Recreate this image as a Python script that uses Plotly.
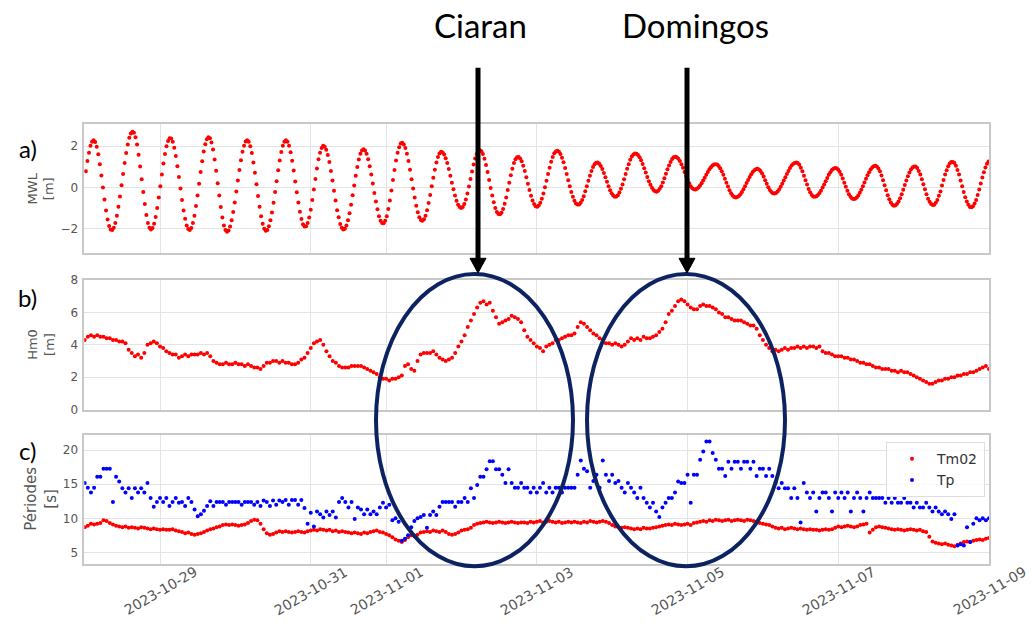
import pandas as pd
import plotly.graph_objects as go

# ---------------- data ----------------
# MWL, one reading about every 30 minutes
mwl_values = [
    0.79, 1.28, 1.69, 2.02, 2.22, 2.29, 2.21, 1.98, 1.61, 1.13, 0.58, -0.01,
    -0.59, -1.12, -1.56, -1.88, -2.05, -2.07, -1.96, -1.73, -1.38, -0.94, -0.45, 0.10,
    0.65, 1.18, 1.67, 2.09, 2.41, 2.62, 2.71, 2.66, 2.44, 2.08, 1.59, 1.02,
    0.39, -0.23, -0.81, -1.34, -1.73, -1.97, -2.05, -1.98, -1.77, -1.44, -1.00, -0.49,
    0.06, 0.62, 1.16, 1.62, 2.00, 2.26, 2.39, 2.38, 2.22, 1.93, 1.53, 1.03,
    0.50, -0.06, -0.62, -1.12, -1.53, -1.86, -2.03, -2.08, -1.98, -1.74, -1.38, -0.91,
    -0.39, 0.18, 0.75, 1.27, 1.74, 2.10, 2.34, 2.44, 2.39, 2.18, 1.84, 1.36,
    0.81, 0.20, -0.40, -0.96, -1.47, -1.85, -2.08, -2.16, -2.10, -1.91, -1.60, -1.20,
    -0.74, -0.20, 0.33, 0.85, 1.32, 1.73, 2.03, 2.23, 2.29, 2.22, 2.00, 1.67,
    1.21, 0.71, 0.15, -0.42, -0.94, -1.41, -1.77, -2.01, -2.11, -2.07, -1.89, -1.60,
    -1.22, -0.75, -0.23, 0.30, 0.83, 1.31, 1.72, 2.03, 2.22, 2.29, 2.22, 2.03,
    1.71, 1.30, 0.82, 0.29, -0.24, -0.74, -1.19, -1.54, -1.79, -1.91, -1.89, -1.74,
    -1.47, -1.09, -0.62, -0.10, 0.41, 0.92, 1.37, 1.69, 1.92, 2.02, 1.98, 1.83,
    1.57, 1.23, 0.80, 0.33, -0.16, -0.64, -1.11, -1.46, -1.78, -1.97, -2.05, -2.01,
    -1.86, -1.60, -1.26, -0.84, -0.38, 0.09, 0.56, 0.99, 1.35, 1.63, 1.80, 1.86,
    1.80, 1.64, 1.37, 1.03, 0.63, 0.19, -0.27, -0.69, -1.07, -1.40, -1.62, -1.74,
    -1.75, -1.63, -1.40, -1.05, -0.64, -0.15, 0.36, 0.85, 1.31, 1.68, 1.95, 2.13,
    2.17, 2.09, 1.91, 1.64, 1.28, 0.86, 0.40, -0.05, -0.49, -0.89, -1.21, -1.46,
    -1.59, -1.63, -1.55, -1.38, -1.11, -0.76, -0.37, 0.05, 0.47, 0.86, 1.21, 1.48,
    1.65, 1.73, 1.70, 1.60, 1.42, 1.18, 0.89, 0.57, 0.23, -0.09, -0.40, -0.65,
    -0.84, -0.96, -1.00, -0.95, -0.81, -0.59, -0.30, 0.04, 0.41, 0.77, 1.11, 1.40,
    1.62, 1.76, 1.81, 1.76, 1.62, 1.39, 1.09, 0.75, 0.36, -0.03, -0.40, -0.73,
    -1.01, -1.20, -1.30, -1.31, -1.23, -1.05, -0.80, -0.49, -0.13, 0.23, 0.59, 0.91,
    1.18, 1.37, 1.47, 1.48, 1.41, 1.27, 1.05, 0.80, 0.49, 0.18, -0.13, -0.41,
    -0.64, -0.81, -0.92, -0.94, -0.88, -0.75, -0.56, -0.30, 0.00, 0.32, 0.65, 0.96,
    1.25, 1.48, 1.66, 1.75, 1.78, 1.73, 1.62, 1.44, 1.22, 0.94, 0.65, 0.35,
    0.05, -0.22, -0.46, -0.65, -0.78, -0.83, -0.83, -0.75, -0.62, -0.43, -0.19, 0.05,
    0.32, 0.57, 0.80, 0.99, 1.13, 1.20, 1.21, 1.15, 1.04, 0.89, 0.70, 0.49,
    0.27, 0.05, -0.14, -0.29, -0.40, -0.46, -0.45, -0.38, -0.25, -0.07, 0.14, 0.39,
    0.65, 0.90, 1.13, 1.34, 1.50, 1.60, 1.65, 1.63, 1.57, 1.46, 1.32, 1.14,
    0.93, 0.72, 0.51, 0.30, 0.13, -0.02, -0.13, -0.19, -0.21, -0.17, -0.07, 0.06,
    0.24, 0.44, 0.66, 0.88, 1.07, 1.24, 1.38, 1.46, 1.49, 1.47, 1.39, 1.28,
    1.12, 0.95, 0.75, 0.56, 0.37, 0.20, 0.06, -0.04, -0.09, -0.10, -0.07, -0.01,
    0.09, 0.20, 0.33, 0.47, 0.61, 0.75, 0.88, 0.98, 1.06, 1.11, 1.13, 1.11,
    1.04, 0.93, 0.78, 0.61, 0.42, 0.22, 0.04, -0.14, -0.29, -0.40, -0.47, -0.49,
    -0.47, -0.42, -0.34, -0.23, -0.09, 0.05, 0.21, 0.36, 0.50, 0.64, 0.75, 0.83,
    0.88, 0.90, 0.87, 0.80, 0.68, 0.53, 0.35, 0.18, 0.01, -0.13, -0.23, -0.29,
    -0.30, -0.27, -0.20, -0.10, 0.03, 0.17, 0.33, 0.49, 0.65, 0.80, 0.94, 1.06,
    1.14, 1.19, 1.21, 1.18, 1.10, 0.96, 0.78, 0.57, 0.35, 0.14, -0.08, -0.24,
    -0.37, -0.44, -0.46, -0.43, -0.37, -0.28, -0.16, -0.01, 0.14, 0.30, 0.46, 0.61,
    0.73, 0.84, 0.91, 0.94, 0.93, 0.87, 0.76, 0.61, 0.43, 0.23, 0.03, -0.17,
    -0.34, -0.46, -0.54, -0.57, -0.55, -0.49, -0.39, -0.26, -0.11, 0.06, 0.24, 0.42,
    0.59, 0.74, 0.87, 0.97, 1.03, 1.05, 1.02, 0.92, 0.78, 0.58, 0.35, 0.10,
    -0.14, -0.38, -0.58, -0.74, -0.84, -0.89, -0.87, -0.80, -0.69, -0.53, -0.33, -0.12,
    0.11, 0.33, 0.54, 0.72, 0.87, 0.97, 1.02, 1.01, 0.94, 0.80, 0.63, 0.40,
    0.15, -0.09, -0.33, -0.55, -0.70, -0.81, -0.86, -0.84, -0.75, -0.61, -0.41, -0.20,
    0.09, 0.36, 0.62, 0.83, 1.03, 1.16, 1.24, 1.24, 1.18, 1.05, 0.85, 0.62,
    0.34, 0.05, -0.23, -0.48, -0.69, -0.85, -0.95, -0.97, -0.92, -0.79, -0.61, -0.37,
    -0.10, 0.19, 0.48, 0.74, 0.97, 1.15, 1.26,
]
mwl_start, mwl_end = "2023-10-28 00:23", "2023-11-08 23:51"

hm0_values = [
    4.3, 4.5, 4.6, 4.5, 4.6, 4.5, 4.5, 4.4, 4.4, 4.3, 4.3, 4.2,
    4.2, 4.1, 3.7, 3.5, 3.3, 3.4, 3.2, 3.5, 4.0, 4.1, 4.2, 4.1,
    3.9, 3.8, 3.6, 3.5, 3.4, 3.4, 3.2, 3.3, 3.4, 3.3, 3.4, 3.4,
    3.4, 3.5, 3.4, 3.5, 3.3, 3.0, 2.9, 2.8, 2.8, 2.9, 2.8, 2.8,
    2.9, 2.8, 2.8, 2.7, 2.8, 2.7, 2.6, 2.6, 2.5, 2.7, 2.9, 2.9,
    3.0, 3.0, 2.9, 3.0, 2.9, 2.9, 2.8, 2.8, 2.9, 3.1, 3.2, 3.5,
    3.8, 4.1, 4.2, 4.3, 4.0, 3.6, 3.3, 3.0, 2.9, 2.7, 2.6, 2.6,
    2.6, 2.7, 2.7, 2.7, 2.7, 2.6, 2.5, 2.4, 2.3, 2.2, 2.0, 1.9,
    1.9, 1.8, 1.9, 1.9, 2.0, 2.1, 2.7, 2.8, 2.5, 2.4, 3.0, 3.4,
    3.5, 3.5, 3.5, 3.6, 3.4, 3.2, 3.1, 3.0, 3.1, 3.2, 3.5, 3.9,
    4.2, 4.6, 5.1, 5.5, 5.9, 6.3, 6.6, 6.7, 6.5, 6.6, 6.1, 5.7,
    5.3, 5.4, 5.5, 5.6, 5.8, 5.7, 5.6, 5.4, 4.9, 4.5, 4.3, 4.1,
    3.9, 3.8, 3.6, 3.9, 4.0, 4.1, 4.3, 4.3, 4.4, 4.5, 4.6, 4.6,
    4.7, 5.1, 5.4, 5.3, 5.1, 4.9, 4.7, 4.6, 4.4, 4.3, 4.1, 4.1,
    4.0, 4.1, 4.0, 3.9, 4.0, 4.2, 4.4, 4.3, 4.4, 4.3, 4.5, 4.4,
    4.4, 4.5, 4.6, 4.8, 5.0, 5.4, 5.9, 6.1, 6.4, 6.7, 6.8, 6.7,
    6.5, 6.3, 6.2, 6.2, 6.4, 6.5, 6.4, 6.4, 6.3, 6.2, 6.0, 5.9,
    5.7, 5.7, 5.6, 5.5, 5.5, 5.5, 5.4, 5.3, 5.2, 5.2, 5.0, 4.6,
    4.3, 4.0, 3.8, 3.6, 3.7, 3.6, 3.7, 3.8, 3.7, 3.8, 3.8, 3.9,
    3.8, 3.9, 3.8, 3.9, 3.9, 3.8, 3.9, 3.6, 3.5, 3.5, 3.4, 3.3,
    3.3, 3.3, 3.2, 3.2, 3.1, 3.1, 3.0, 2.9, 2.9, 2.8, 2.8, 2.7,
    2.6, 2.6, 2.5, 2.5, 2.5, 2.4, 2.4, 2.3, 2.4, 2.3, 2.3, 2.2,
    2.1, 2.0, 1.9, 1.8, 1.7, 1.6, 1.6, 1.7, 1.8, 1.8, 1.9, 1.9,
    2.0, 2.0, 2.1, 2.1, 2.2, 2.2, 2.3, 2.3, 2.4, 2.5, 2.6, 2.7, 2.5,
]

tm02_values = [
    8.7, 8.9, 9.2, 9.1, 9.2, 9.3, 9.7, 9.6, 9.3, 9.1, 8.9, 8.8,
    8.7, 8.8, 8.6, 8.7, 8.6, 8.5, 8.7, 8.6, 8.5, 8.4, 8.5, 8.4,
    8.3, 8.4, 8.3, 8.3, 8.4, 8.2, 8.1, 8.0, 7.8, 7.9, 7.7, 7.6,
    7.7, 7.8, 8.0, 8.2, 8.4, 8.5, 8.7, 8.8, 9.0, 9.1, 9.0, 9.1,
    9.0, 8.9, 9.0, 9.1, 9.3, 9.6, 9.8, 9.7, 9.2, 8.4, 7.8, 7.6,
    7.7, 7.9, 8.1, 8.0, 8.1, 8.0, 7.9, 8.0, 8.1, 8.0, 7.9, 8.1,
    8.2, 8.3, 8.2, 8.4, 8.3, 8.2, 8.3, 8.1, 8.2, 8.0, 8.1, 8.0,
    7.9, 7.8, 7.9, 7.8, 7.7, 7.9, 7.8, 8.0, 8.1, 8.2, 8.0, 7.9,
    7.7, 7.5, 7.2, 6.9, 6.7, 6.5, 6.8, 7.2, 7.5, 7.4, 7.6, 7.9,
    8.0, 8.1, 8.0, 8.2, 8.1, 8.0, 8.2, 8.0, 7.7, 7.6, 7.7, 7.9,
    8.2, 8.3, 8.4, 8.6, 9.0, 9.2, 9.3, 9.4, 9.5, 9.4, 9.3, 9.4,
    9.5, 9.4, 9.3, 9.4, 9.5, 9.4, 9.3, 9.4, 9.4, 9.3, 9.5, 9.4,
    9.5, 9.6, 9.4, 9.5, 9.6, 9.5, 9.4, 9.5, 9.3, 9.4, 9.5, 9.4,
    9.5, 9.4, 9.3, 9.5, 9.4, 9.6, 9.5, 9.4, 9.5, 9.6, 9.5, 9.3,
    9.0, 8.8, 8.7, 8.6, 8.7, 8.6, 8.5, 8.4, 8.5, 8.4, 8.6, 8.5,
    8.5, 8.6, 8.7, 8.8, 8.9, 9.0, 9.1, 9.0, 9.2, 9.1, 9.0, 9.1,
    9.2, 9.0, 9.3, 9.4, 9.5, 9.6, 9.5, 9.7, 9.6, 9.8, 9.7, 9.6,
    9.7, 9.8, 9.6, 9.7, 9.8, 9.7, 9.6, 9.8, 9.7, 9.6, 9.5, 9.3,
    9.2, 9.1, 9.0, 8.8, 8.6, 8.5, 8.6, 8.4, 8.5, 8.6, 8.5, 8.4,
    8.5, 8.4, 8.3, 8.4, 8.3, 8.3, 8.2, 8.3, 8.4, 8.3, 8.4, 8.6,
    8.8, 8.7, 8.8, 8.9, 8.8, 8.7, 8.8, 9.0, 9.1, 9.2, 7.9, 8.3,
    8.7, 8.8, 8.7, 8.6, 8.5, 8.4, 8.3, 8.4, 8.3, 8.2, 8.3, 8.4,
    8.3, 8.2, 8.3, 8.1, 8.0, 7.3, 6.6, 6.4, 6.3, 6.2, 6.3, 6.1,
    6.0, 5.9, 6.1, 6.3, 6.5, 6.6, 6.5, 6.7, 6.8, 6.9, 6.8, 7.0, 7.1,
]

tp_values = [
    15.2, 14.5, 13.8, 14.5, 16.1, 16.1, 17.3, 17.3, 17.3, 12.4, 16.1, 15.4,
    14.4, 13.8, 14.4, 13.0, 14.4, 13.8, 14.4, 13.8, 15.2, 13.0, 11.7, 12.4,
    13.0, 12.4, 13.0, 11.8, 12.4, 13.0, 12.3, 12.4, 11.8, 13.0, 12.4, 11.3,
    10.3, 10.6, 11.1, 11.8, 12.5, 11.8, 12.4, 12.4, 12.4, 12.0, 12.4, 12.4,
    12.4, 12.4, 12.0, 12.4, 12.4, 12.4, 12.0, 12.4, 11.8, 12.6, 12.4, 11.8,
    12.6, 12.0, 12.6, 12.4, 12.7, 12.0, 12.7, 12.7, 12.0, 12.7, 11.5, 9.2,
    10.8, 8.8, 11.0, 10.6, 10.1, 11.0, 10.5, 11.0, 10.1, 12.4, 13.0, 12.4,
    11.6, 12.4, 9.9, 11.6, 11.3, 10.6, 11.3, 10.6, 11.0, 10.6, 11.6, 12.3,
    11.6, 12.0, 9.7, 10.0, 9.5, 6.7, 7.0, 7.5, 8.7, 9.6, 10.0, 10.2,
    10.5, 8.6, 10.5, 11.0, 10.5, 11.7, 12.4, 12.4, 12.4, 12.4, 11.7, 12.4,
    12.4, 13.0, 12.4, 14.4, 13.0, 14.9, 16.1, 16.1, 17.2, 18.4, 18.4, 17.2,
    17.2, 16.4, 15.2, 17.2, 15.2, 14.5, 14.5, 15.2, 14.5, 14.5, 13.8, 14.5,
    13.8, 14.5, 15.2, 13.8, 14.5, 13.8, 14.5, 14.5, 13.8, 14.5, 14.5, 14.5,
    14.5, 16.4, 18.5, 17.3, 16.9, 14.5, 15.5, 16.4, 14.5, 18.5, 16.4, 15.5,
    16.4, 15.2, 15.5, 14.5, 13.8, 15.2, 14.5, 13.8, 13.0, 14.5, 13.0, 12.3,
    11.6, 12.3, 11.0, 10.2, 11.6, 12.3, 13.0, 13.0, 13.8, 15.4, 15.2, 15.2,
    16.4, 12.3, 16.4, 16.4, 18.6, 19.8, 21.3, 21.3, 19.6, 18.6, 17.3, 17.3,
    16.2, 18.3, 17.3, 18.3, 18.3, 17.3, 18.3, 18.3, 17.3, 18.3, 16.2, 17.3,
    17.3, 16.2, 17.3, 16.2, 15.2, 14.4, 15.2, 14.4, 14.4, 13.0, 14.4, 13.0,
    9.4, 15.2, 13.8, 13.0, 13.8, 11.0, 13.0, 13.8, 13.8, 13.0, 11.0, 13.8,
    13.0, 13.8, 13.0, 13.8, 11.0, 13.0, 13.8, 13.0, 11.0, 13.0, 13.8, 13.0,
    13.0, 13.0, 13.0, 12.3, 13.0, 12.3, 13.0, 12.3, 12.3, 13.0, 12.3, 12.3,
    11.6, 12.3, 11.6, 11.6, 12.3, 11.6, 11.0, 11.6, 11.0, 10.6, 11.0, 10.6,
    9.9, 10.6, 6.0, 6.2, 6.0, 8.7, 6.5, 9.2, 10.0, 9.7, 10.0, 9.7, 10.0,
]
hourly_start = "2023-10-28 00:00"

tick_dates = ["2023-10-29", "2023-10-31", "2023-11-01", "2023-11-03",
              "2023-11-05", "2023-11-07", "2023-11-09"]
x_range = ["2023-10-27 23:53", "2023-11-09 00:00"]

mwl_ticks = [-2, 0, 2]
hm0_ticks = [0, 2, 4, 6, 8]
per_ticks = [5, 10, 15, 20]

# ---------------- figure ----------------
W, H = 1033, 632
def px(x):
    return x / W
def py(y):
    return 1 - y / H

mwl_time = pd.date_range(mwl_start, mwl_end, periods=len(mwl_values))
hm0_time = pd.date_range(hourly_start, periods=len(hm0_values), freq="h")
tm02_time = pd.date_range(hourly_start, periods=len(tm02_values), freq="h")
tp_time = pd.date_range(hourly_start, periods=len(tp_values), freq="h")

RED = "#ff0000"
BLUE = "#0000ff"
fig = go.Figure()
fig.add_trace(go.Scatter(x=mwl_time, y=mwl_values, mode="markers",
                         marker=dict(color=RED, size=4), showlegend=False,
                         xaxis="x", yaxis="y"))
fig.add_trace(go.Scatter(x=hm0_time, y=hm0_values, mode="markers",
                         marker=dict(color=RED, size=4), showlegend=False,
                         xaxis="x2", yaxis="y2"))
fig.add_trace(go.Scatter(x=tm02_time, y=tm02_values, mode="markers", name="Tm02",
                         marker=dict(color=RED, size=4), xaxis="x3", yaxis="y3"))
fig.add_trace(go.Scatter(x=tp_time, y=tp_values, mode="markers", name="Tp",
                         marker=dict(color=BLUE, size=4), xaxis="x3", yaxis="y3"))

xdom = [px(84.3), px(989)]
GRID = "#e4e4e4"
FRAME = "#c8c8c8"
TICKC = "#555555"
xcommon = dict(type="date", range=x_range, domain=xdom, tickvals=tick_dates,
               showticklabels=False, showgrid=True, gridcolor=GRID, gridwidth=1,
               showline=True, linecolor=FRAME, linewidth=1.5, mirror=True,
               ticks="", zeroline=False)
ycommon = dict(showgrid=True, gridcolor=GRID, gridwidth=1, showline=True,
               linecolor=FRAME, linewidth=1.5, mirror=True, ticks="",
               zeroline=False, tickfont=dict(family="DejaVu Sans", size=12, color=TICKC),
               ticklabelstandoff=2)

fig.update_layout(
    width=W, height=H, margin=dict(l=0, r=0, t=0, b=0),
    paper_bgcolor="white", plot_bgcolor="white",
    xaxis=dict(**xcommon, anchor="y"),
    xaxis2=dict(**xcommon, anchor="y2", matches="x"),
    xaxis3=dict(**xcommon, anchor="y3", matches="x"),
    yaxis=dict(**ycommon, domain=[py(251.7), py(119.3)], range=[-3.2, 3.1],
               tickvals=mwl_ticks, anchor="x"),
    yaxis2=dict(**ycommon, domain=[py(411.7), py(279.3)], range=[0, 8],
                tickvals=hm0_ticks, anchor="x2"),
    yaxis3=dict(**ycommon, domain=[py(569.3), py(437.3)], range=[3.33, 22.3],
                tickvals=per_ticks, anchor="x3"),
    legend=dict(x=px(985), y=py(445), xanchor="right", yanchor="top",
                bgcolor="rgba(255,255,255,0.85)", bordercolor="#dddddd",
                borderwidth=1, font=dict(family="DejaVu Sans", size=14, color="#333333"),
                itemwidth=40, tracegroupgap=2),
    showlegend=True,
)

annotations = []
# date tick labels, centred on the ticks and rotated
for d in tick_dates:
    annotations.append(dict(x=d, xref="x3", y=py(597), yref="paper", text=d,
                            showarrow=False, textangle=-30, xanchor="center",
                            yanchor="middle",
                            font=dict(family="DejaVu Sans", size=14, color=TICKC)))
# axis titles
for text, ycen, size in [("MWL<br>[m]", 185.5, 13), ("Hm0<br>[m]", 345.5, 13),
                         ("Périodes<br>[s]", 503, 15)]:
    annotations.append(dict(x=px(41), y=py(ycen), xref="paper", yref="paper",
                            text=text, showarrow=False, textangle=-90,
                            xanchor="center", yanchor="middle",
                            font=dict(family="DejaVu Sans", size=size, color=TICKC)))
# panel letters
for text, xc, yc in [("a)", 28, 145), ("b)", 27, 297), ("c)", 27, 454)]:
    annotations.append(dict(x=px(xc), y=py(yc), xref="paper", yref="paper",
                            text=text, showarrow=False, xanchor="center",
                            yanchor="middle",
                            font=dict(family="Lato", size=24, color="black")))
# storm names
for text, xc in [("Ciaran", 480), ("Domingos", 695)]:
    annotations.append(dict(x=px(xc), y=py(18), xref="paper", yref="paper",
                            text=text, showarrow=False, xanchor="center",
                            yanchor="middle",
                            font=dict(family="Lato", size=33, color="black")))
fig.update_layout(annotations=annotations)

shapes = []
NAVY = "#0d2260"
for x0, x1 in [(376, 573), (587, 785)]:
    shapes.append(dict(type="circle", xref="paper", yref="paper",
                       x0=px(x0), x1=px(x1), y0=py(572), y1=py(273),
                       line=dict(color=NAVY, width=4), layer="above"))
for xa in [478, 687]:
    shapes.append(dict(type="line", xref="paper", yref="paper",
                       x0=px(xa), x1=px(xa), y0=py(62), y1=py(260),
                       line=dict(color="black", width=5), layer="above"))
    shapes.append(dict(type="path", xref="paper", yref="paper",
                       path=f"M {px(xa-8)},{py(257)} L {px(xa+8)},{py(257)} L {px(xa)},{py(272)} Z",
                       fillcolor="black", line=dict(color="black", width=1),
                       layer="above"))
fig.update_layout(shapes=shapes)

fig.write_html("out.html", config={"displayModeBar": False})

# remove the page's default body margin so the figure sits at the window's corner
with open("out.html", encoding="utf-8") as f:
    html = f.read()
html = html.replace("<head>", "<head><style>html,body{margin:0;padding:0;overflow:hidden;}</style>", 1)
with open("out.html", "w", encoding="utf-8") as f:
    f.write(html)
